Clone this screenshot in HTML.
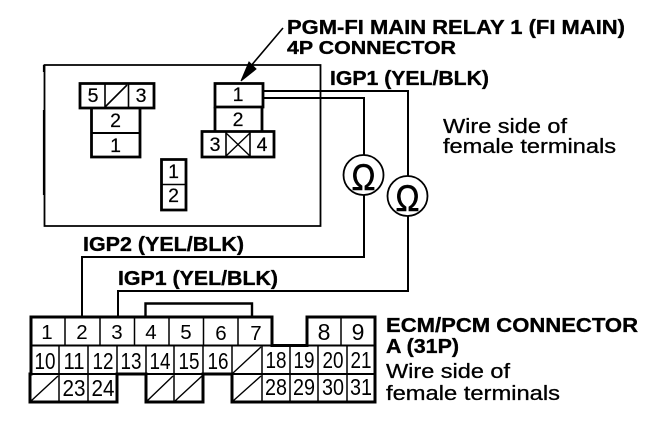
<!DOCTYPE html>
<html>
<head>
<meta charset="utf-8">
<style>
html,body{margin:0;padding:0;background:#fff;width:672px;height:434px;overflow:hidden}
svg{display:block}
text{font-family:"Liberation Sans",sans-serif;fill:#000}
.b{font-weight:bold;font-size:20px;stroke:#000;stroke-width:.35px}
.r{font-size:20px;stroke:#000;stroke-width:.3px}
.n{font-size:19.500px;text-anchor:middle;stroke:#000;stroke-width:.2px}
.m{font-size:20.500px;text-anchor:middle}
.d{font-size:23px;text-anchor:middle}
.o{font-size:37px;stroke:#000;stroke-width:.6px}
</style>
</head>
<body>
<svg width="672" height="434" viewBox="0 0 672 434" xmlns="http://www.w3.org/2000/svg">
<g fill="none" stroke="#000">
  <!-- outer box -->
  <path d="M44.500 65H320.500V226H44.500Z" stroke-width="1.800"/>
  <path d="M44 110V195M44 65V72" stroke-width="2.200"/>
  <!-- arrow -->
  <path d="M283 28L250 67" stroke-width="1.600"/>
  <path d="M241 81L249 62L256 69Z" fill="#000" stroke-width="1"/>

  <!-- left connector -->
  <g stroke-width="2.800">
    <path d="M80 83.500H154V108H80Z"/>
    <path d="M91.500 108V157H140V108"/>
    <path d="M92 133H140" stroke-width="2"/>
    <path d="M105 84V108M128.500 84V108" stroke-width="1.600"/>
  </g>
  <path d="M105 107L127 85" stroke-width="1.600"/>

  <!-- centre connector -->
  <g stroke-width="2.800">
    <path d="M215 83.500H263V107H215Z"/>
    <path d="M215 107V131M262 107V131"/>
    <path d="M202 131.500H274V157H202Z"/>
    <path d="M226 132V157M250 132V157" stroke-width="1.600"/>
    <path d="M226 156L250 133M226 133L250 156" stroke-width="1.400"/>
  </g>

  <!-- small connector -->
  <path d="M161.500 159.500H186V210H161.500Z" stroke-width="2.800"/>
  <path d="M162 184.500H186" stroke-width="1.500"/>

  <!-- wires -->
  <g stroke-width="2">
    <path d="M263 91H408V176"/>
    <path d="M263 98H364V155"/>
    <path d="M364 195V257H82V317"/>
    <path d="M408 216V291H118V317"/>
  </g>
  <path d="M145.500 317V303.500H252V317" stroke-width="2.400"/>

  <!-- ohm meters -->
  <circle cx="363.500" cy="175" r="20" stroke-width="1.800"/>
  <circle cx="407.500" cy="196" r="20" stroke-width="1.800"/>

  <!-- ECM connector outline -->
  <path d="M31 317H272V345.500H307V317H375V402H232V374H203V402H146V374H117V402H30V374H31Z" stroke-width="3"/>
  <path d="M31 345.500H375M31 374H117M146 374H203M232 374H375" stroke-width="2"/>
  <path d="M65 317V345M100 317V345M134.500 317V345M169 317V345M203.500 317V345M238 317V345M341 317V345" stroke-width="1.500"/>
  <path d="M59 346V402M88 346V402M117 346V374M146 346V374M174 346V402M203 346V374M232 346V374M262 346V402M290 346V402M318 346V402M347 346V402" stroke-width="1.500"/>
  <path d="M31 401L58 376M147 401L173 376M175 401L202 376M233 373L261 347M233 401L261 376" stroke-width="1.400"/>
</g>

<!-- ohm glyphs -->
<text class="o" x="351.500" y="190" textLength="24" lengthAdjust="spacingAndGlyphs">Ω</text>
<text class="o" x="395.500" y="211" textLength="24" lengthAdjust="spacingAndGlyphs">Ω</text>

<!-- labels -->
<text class="b" x="287" y="34" textLength="338" lengthAdjust="spacingAndGlyphs">PGM-FI MAIN RELAY 1 (FI MAIN)</text>
<text class="b" x="287" y="54" textLength="169" lengthAdjust="spacingAndGlyphs" style="font-size:18px">4P CONNECTOR</text>
<text class="b" x="330" y="85" textLength="159" lengthAdjust="spacingAndGlyphs">IGP1 (YEL/BLK)</text>
<text class="r" x="443" y="133" textLength="124" lengthAdjust="spacingAndGlyphs">Wire side of</text>
<text class="r" x="443" y="153" textLength="173" lengthAdjust="spacingAndGlyphs">female terminals</text>
<text class="b" x="83" y="251" textLength="161" lengthAdjust="spacingAndGlyphs">IGP2 (YEL/BLK)</text>
<text class="b" x="118" y="285" textLength="160" lengthAdjust="spacingAndGlyphs">IGP1 (YEL/BLK)</text>
<text class="b" x="386" y="332" textLength="252" lengthAdjust="spacingAndGlyphs">ECM/PCM CONNECTOR</text>
<text class="b" x="386" y="353" textLength="73" lengthAdjust="spacingAndGlyphs">A (31P)</text>
<text class="r" x="386" y="378" textLength="124" lengthAdjust="spacingAndGlyphs">Wire side of</text>
<text class="r" x="386" y="400" textLength="174" lengthAdjust="spacingAndGlyphs">female terminals</text>

<!-- relay numbers -->
<text class="n" x="93" y="102">5</text>
<text class="n" x="141" y="102">3</text>
<text class="n" x="115.500" y="127">2</text>
<text class="n" x="115.500" y="152">1</text>
<text class="n" x="238" y="101">1</text>
<text class="n" x="238" y="126">2</text>
<text class="n" x="215" y="151">3</text>
<text class="n" x="262" y="151">4</text>
<text class="n" x="173.500" y="178">1</text>
<text class="n" x="173.500" y="202">2</text>

<!-- ECM numbers -->
<text class="m" x="47" y="339">1</text>
<text class="m" x="82" y="339">2</text>
<text class="m" x="117" y="339">3</text>
<text class="m" x="151" y="339">4</text>
<text class="m" x="186" y="339">5</text>
<text class="m" x="221" y="340">6</text>
<text class="m" x="256" y="340">7</text>
<text class="d" x="324" y="340">8</text>
<text class="d" x="358" y="340">9</text>
<text class="d" x="45" y="369" textLength="21" lengthAdjust="spacingAndGlyphs">10</text>
<text class="d" x="74" y="369" textLength="21" lengthAdjust="spacingAndGlyphs">11</text>
<text class="d" x="103" y="369" textLength="21" lengthAdjust="spacingAndGlyphs">12</text>
<text class="d" x="131" y="369" textLength="21" lengthAdjust="spacingAndGlyphs">13</text>
<text class="d" x="160" y="369" textLength="21" lengthAdjust="spacingAndGlyphs">14</text>
<text class="d" x="189" y="369" textLength="21" lengthAdjust="spacingAndGlyphs">15</text>
<text class="d" x="218" y="369" textLength="21" lengthAdjust="spacingAndGlyphs">16</text>
<text class="d" x="276" y="368" textLength="21" lengthAdjust="spacingAndGlyphs">18</text>
<text class="d" x="304" y="368" textLength="21" lengthAdjust="spacingAndGlyphs">19</text>
<text class="d" x="333" y="368" textLength="21" lengthAdjust="spacingAndGlyphs">20</text>
<text class="d" x="361" y="368" textLength="21" lengthAdjust="spacingAndGlyphs">21</text>
<text class="d" x="74" y="396" textLength="23" lengthAdjust="spacingAndGlyphs">23</text>
<text class="d" x="103" y="396" textLength="23" lengthAdjust="spacingAndGlyphs">24</text>
<text class="d" x="276" y="395" textLength="22" lengthAdjust="spacingAndGlyphs">28</text>
<text class="d" x="304" y="395" textLength="22" lengthAdjust="spacingAndGlyphs">29</text>
<text class="d" x="333" y="395" textLength="22" lengthAdjust="spacingAndGlyphs">30</text>
<text class="d" x="361" y="395" textLength="22" lengthAdjust="spacingAndGlyphs">31</text>
</svg>
</body>
</html>
